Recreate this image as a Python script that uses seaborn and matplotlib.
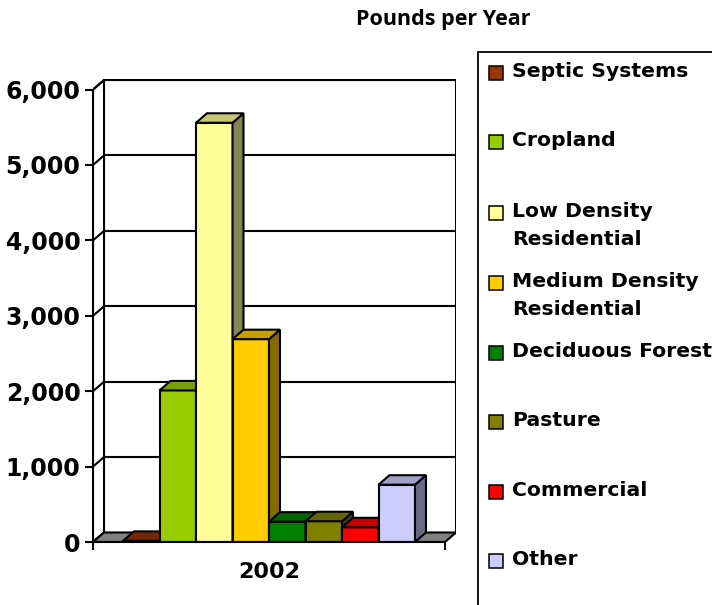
import matplotlib
matplotlib.use("Agg")
import matplotlib.pyplot as plt
from matplotlib.patches import Polygon, Rectangle
import seaborn as sns
import pandas as pd

# ---- data ----
categories = ["Septic Systems", "Cropland", "Low Density Residential",
              "Medium Density Residential", "Deciduous Forest", "Pasture",
              "Commercial", "Other"]
legend_labels = ["Septic Systems", "Cropland", "Low Density\nResidential",
                 "Medium Density\nResidential", "Deciduous Forest", "Pasture",
                 "Commercial", "Other"]
values = [15, 2010, 5560, 2690, 270, 275, 195, 760]
colors = ["#993300", "#99CC00", "#FFFF99", "#FFCC00", "#008000", "#808000",
          "#FF0000", "#CCCCFF"]
year_label = "2002"
yticks = [0, 1000, 2000, 3000, 4000, 5000, 6000]
title = "Pounds per Year"

sns.set_theme(style="white")
plt.rcParams['font.family'] = ['DejaVu Sans']
plt.rcParams['text.color'] = 'black'
plt.rcParams['xtick.color'] = 'black'
plt.rcParams['ytick.color'] = 'black'
plt.rcParams['axes.labelcolor'] = 'black'

W, H = 712, 605
fig = plt.figure(figsize=(W / 100, H / 100), dpi=100)

# axes in pixel geometry
x0, x1 = 93, 456      # front-left axis, back-right wall edge
y_top, y_bot = 79, 542
ax = fig.add_axes([x0 / W, 1 - y_bot / H, (x1 - x0) / W, (y_bot - y_top) / H])

px_per_unit = 36.5
px_per_1000 = 75.4
xl = (x0 - 123) / px_per_unit - 0.5
xr = (x1 - 123) / px_per_unit - 0.5
ytop = (y_bot - y_top) / px_per_1000 * 1000
dx = 11 / px_per_unit
dy = 9.5 / px_per_1000 * 1000

lw = 1.5
ec = "black"

df = pd.DataFrame({"cat": categories, "val": values})
sns.barplot(data=df, x="cat", y="val", hue="cat", palette=colors,
            width=1.0, edgecolor=ec, linewidth=lw, saturation=1,
            legend=False, ax=ax, order=categories, hue_order=categories)

# back wall
ax.add_patch(Polygon([(xl + dx, dy), (xr, dy), (xr, 6000 + dy), (xl + dx, 6000 + dy)],
                     closed=True, facecolor="white", edgecolor=ec, lw=lw, zorder=0.5))
# left wall
ax.add_patch(Polygon([(xl, 0), (xl + dx, dy), (xl + dx, 6000 + dy), (xl, 6000)],
                     closed=True, facecolor="white", edgecolor=ec, lw=lw, zorder=0.5))
for v in yticks[1:]:
    ax.plot([xl + dx, xr], [v + dy, v + dy], color=ec, lw=lw, zorder=0.6)
for v in yticks:
    ax.plot([xl, xl + dx], [v, v + dy], color=ec, lw=lw, zorder=0.6)
# floor
ax.add_patch(Polygon([(xl, 0), (xr - dx, 0), (xr, dy), (xl + dx, dy)],
                     closed=True, facecolor="#808080", edgecolor=ec, lw=lw, zorder=0.7))


def shade(c, f):
    r, g, b = matplotlib.colors.to_rgb(c)
    return (r * f, g * f, b * f)


bars = [pp for pp in ax.patches if isinstance(pp, Rectangle)]
for i, p in enumerate(bars):
    bx, bw, bh = p.get_x(), p.get_width(), p.get_height()
    col = p.get_facecolor()
    p.set_zorder(3 + i)
    top = Polygon([(bx, bh), (bx + bw, bh), (bx + bw + dx, bh + dy), (bx + dx, bh + dy)],
                  closed=True, facecolor=shade(col, 0.78), edgecolor=ec, lw=lw,
                  zorder=3 + i + 0.5)
    side = Polygon([(bx + bw, 0), (bx + bw + dx, dy), (bx + bw + dx, bh + dy), (bx + bw, bh)],
                   closed=True, facecolor=shade(col, 0.52), edgecolor=ec, lw=lw,
                   zorder=3 + i + 0.4)
    ax.add_patch(side)
    ax.add_patch(top)

ax.set_xlim(xl, xr)
ax.set_ylim(0, ytop)

for s in ["top", "right"]:
    ax.spines[s].set_visible(False)
ax.spines["left"].set_bounds(0, 6000)
ax.spines["bottom"].set_bounds(xl, xr - dx)
for s in ["left", "bottom"]:
    ax.spines[s].set_color(ec)
    ax.spines[s].set_linewidth(lw)
    ax.spines[s].set_zorder(20)

ax.set_yticks(yticks)
ax.set_yticklabels([f"{v:,}" for v in yticks], fontsize=17, fontweight="bold")
ax.set_xticks([xl, xr - dx])
ax.set_xticklabels(["", ""])
ax.tick_params(axis="both", direction="out", length=6, width=lw, color=ec,
               left=True, bottom=True, pad=3)
ax.set_xlabel("")
ax.set_ylabel("")
ax.grid(False)
ax.text(((xl + xr - dx) / 2), -0.065, year_label, transform=ax.get_xaxis_transform(),
        ha="center", va="center", fontsize=16, fontweight="bold")

# title
fig.text(443 / W, 1 - 20 / H, title, ha="center", va="center", fontsize=15.5,
         fontweight="bold", family=["Open Sans", "DejaVu Sans"])

# legend (manual)
fig.patches.append(Rectangle((478 / W, -0.1), 1.0, (1 - 52 / H) + 0.1,
                             transform=fig.transFigure, facecolor="none",
                             edgecolor="black", lw=1.3))
ycent = [73, 142, 213, 283, 353, 422, 492, 561]
for lab, col, yc in zip(legend_labels, colors, ycent):
    fig.patches.append(Rectangle((489 / W, 1 - (yc + 7) / H), 14 / W, 14 / H,
                                 transform=fig.transFigure, facecolor=col,
                                 edgecolor="black", lw=1.1))
    fig.text(512 / W, 1 - (yc - 11) / H, lab, ha="left", va="top",
             fontsize=14.7, fontweight="bold", linespacing=1.6)

fig.savefig("out.png", dpi=100)
